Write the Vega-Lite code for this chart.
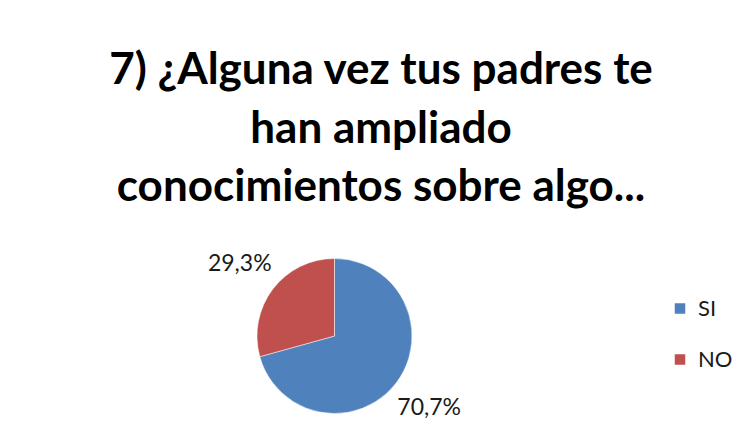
{
  "$schema": "https://vega.github.io/schema/vega-lite/v6.json",
  "autosize": {"type": "none"},
  "width": 309,
  "height": 220,
  "padding": {"left": 180, "top": 226, "right": 250, "bottom": 0},
  "background": "white",
  "title": {
    "text": ["7) ¿Alguna vez tus padres te", "han ampliado", "conocimientos sobre algo..."],
    "font": "Lato",
    "fontSize": 44,
    "fontWeight": "bold",
    "color": "#000000",
    "lineHeight": 58.5,
    "anchor": "middle",
    "frame": "group",
    "dx": 46.5,
    "offset": 16
  },
  "data": {
    "values": [
      {"respuesta": "SI", "porcentaje": 70.7, "etiqueta": "70,7%", "orden": 1},
      {"respuesta": "NO", "porcentaje": 29.3, "etiqueta": "29,3%", "orden": 2}
    ]
  },
  "encoding": {
    "theta": {"field": "porcentaje", "type": "quantitative", "stack": true},
    "order": {"field": "orden", "type": "quantitative"}
  },
  "layer": [
    {
      "mark": {"type": "arc", "outerRadius": 77.5, "stroke": "white", "strokeWidth": 0.5},
      "encoding": {
        "color": {
          "field": "respuesta",
          "type": "nominal",
          "scale": {"domain": ["SI", "NO"], "range": ["#4F81BD", "#C0504D"]},
          "legend": {
            "title": null,
            "orient": "none",
            "legendX": 489,
            "legendY": 71.5,
            "padding": 0,
            "symbolType": "square",
            "symbolSize": 110,
            "symbolStrokeWidth": 0,
            "labelFont": "Lato",
            "labelFontSize": 22,
            "labelColor": "#1a1a1a",
            "labelOffset": 7,
            "rowPadding": 29
          }
        }
      }
    },
    {
      "mark": {"type": "text", "radius": 119, "font": "Lato", "fontSize": 23, "color": "#1a1a1a"},
      "encoding": {
        "text": {"field": "etiqueta", "type": "nominal"}
      }
    }
  ],
  "config": {"view": {"stroke": null}}
}
